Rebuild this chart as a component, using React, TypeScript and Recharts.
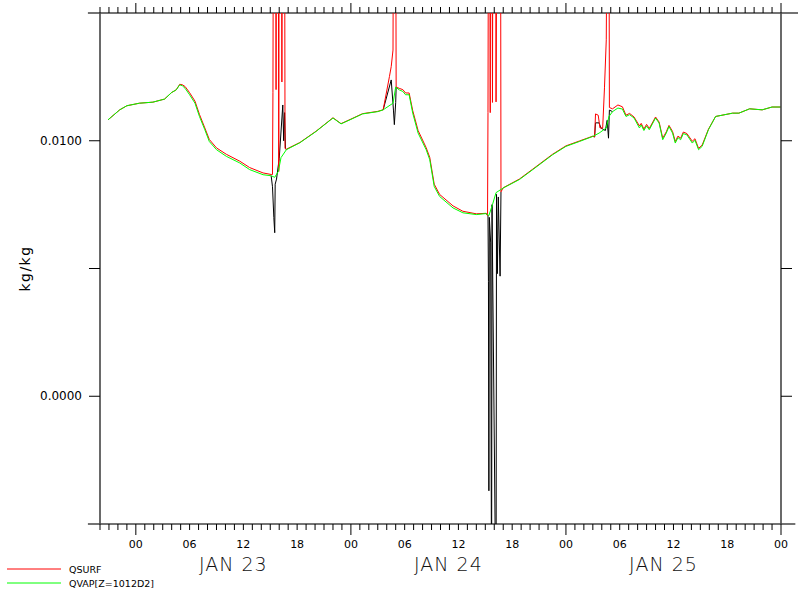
import { LineChart, Line, XAxis, YAxis, ReferenceLine, Legend } from "recharts";

// hours since JAN 23 00:00
const qvapHours = [
  -3.1, -1.8, -1.0, 0.4, 1.9, 3.2, 4.0, 4.5, 4.9, 5.2, 5.5, 6.0, 6.6, 7.1, 7.7, 8.2, 9.0, 10.1,
  11.6, 12.7, 14.2, 15.1, 15.5, 15.9, 16.2, 16.8, 18.3, 20.1, 22.0, 22.9, 23.9, 25.3, 27.0, 27.6,
  28.7, 29.0, 29.4, 29.8, 30.1, 30.5, 30.9, 31.5, 32.4, 32.8, 33.3, 33.9, 35.4, 36.5, 38.0, 39.1,
  39.4, 39.8, 40.2, 41.0, 42.8, 44.3, 46.5, 48.0, 49.5, 51.0, 51.7, 52.5, 52.8, 53.2, 53.8, 54.3,
  54.7, 55.1, 55.6, 56.2, 56.4, 56.7, 57.0, 57.3, 58.0, 58.4, 58.8, 59.2, 59.5, 59.9, 60.2, 60.5,
  60.8, 61.1, 61.5, 62.1, 62.4, 62.8, 63.2, 63.9, 64.7, 66.6, 67.3, 68.5, 69.9, 71.0, 72.0,
];
const qvapValues = [
  0.01082, 0.01121, 0.01137, 0.01147, 0.01151, 0.01163, 0.01189, 0.01199, 0.01219, 0.01215, 0.01205,
  0.0118, 0.01147, 0.01095, 0.01043, 0.00997, 0.00965, 0.00939, 0.00913, 0.00887, 0.00867, 0.00863,
  0.00857, 0.0088, 0.00934, 0.00965, 0.00992, 0.01036, 0.01089, 0.01066, 0.01082, 0.01105, 0.01114,
  0.01121, 0.01147, 0.0121, 0.01199, 0.01193, 0.0118, 0.0118, 0.01108, 0.0103, 0.00965, 0.00926,
  0.00821, 0.00782, 0.00737, 0.00718, 0.00711, 0.00715, 0.00707, 0.0075, 0.00797, 0.00815, 0.00848,
  0.00887, 0.00945, 0.00978, 0.00997, 0.01017, 0.0103, 0.0105, 0.01095, 0.01114, 0.01128, 0.01124,
  0.01095, 0.01102, 0.01089, 0.0105, 0.01062, 0.0104, 0.01058, 0.01043, 0.01089, 0.01069, 0.01004,
  0.0103, 0.01056, 0.0103, 0.00991, 0.01012, 0.01004, 0.01028, 0.01023, 0.00991, 0.01002, 0.00965,
  0.00978, 0.01043, 0.01095, 0.01108, 0.01108, 0.01125, 0.01121, 0.01132, 0.01132,
];

const qsurfHours = [
  -3.1, -1.8, -1.0, 0.4, 1.9, 3.2, 4.0, 4.5, 4.9, 5.2, 5.5, 6.0, 6.6, 7.1, 7.7, 8.2, 9.0, 10.1,
  11.6, 12.7, 14.2, 15.1, 15.25, 15.3, 15.35, 15.6, 15.65, 15.7, 15.9, 15.95, 16.0, 16.25, 16.3,
  16.35, 16.6, 16.65, 16.8, 18.3, 20.1, 22.0, 22.9, 23.9, 25.3, 27.0, 27.6, 28.3, 28.5, 28.7,
  28.75, 29.0, 29.05, 29.4, 29.8, 30.1, 30.5, 30.9, 31.5, 32.4, 32.8, 33.3, 33.9, 35.4, 36.5, 38.0,
  39.1, 39.25, 39.3, 39.35, 39.5, 39.55, 39.6, 39.75, 39.8, 39.85, 40.15, 40.2, 40.3, 40.7, 40.75,
  41.0, 42.8, 44.3, 46.5, 48.0, 49.5, 51.0, 51.2, 51.3, 51.6, 51.8, 52.1, 52.3, 52.5, 52.6, 52.8,
  52.85, 53.2, 53.8, 54.3, 54.7, 55.1, 55.6, 56.2, 56.4, 56.7, 57.0, 57.3, 58.0, 58.4, 58.8, 59.2,
  59.5, 59.9, 60.2, 60.5, 60.8, 61.1, 61.5, 62.1, 62.4, 62.8, 63.2, 63.9, 64.7, 66.6, 67.3, 68.5,
  69.9, 71.0, 72.0,
];
const qsurfValues = [
  0.01082, 0.01121, 0.01137, 0.01147, 0.01151, 0.01163, 0.01189, 0.01199, 0.01221, 0.01219, 0.01212,
  0.01188, 0.01155, 0.01103, 0.0105, 0.01005, 0.00972, 0.00947, 0.0092, 0.00895, 0.00874, 0.00868,
  0.00868, 0.0119, 0.02, 0.02, 0.012, 0.02, 0.02, 0.0088, 0.02, 0.02, 0.0123, 0.02, 0.02, 0.0097,
  0.00967, 0.00993, 0.01037, 0.0109, 0.01067, 0.01083, 0.01106, 0.01115, 0.01121, 0.01251, 0.0129,
  0.01355, 0.02, 0.02, 0.0121, 0.01205, 0.012, 0.01187, 0.01187, 0.01118, 0.0104, 0.00973, 0.00935,
  0.0083, 0.0079, 0.00745, 0.00724, 0.00714, 0.00716, 0.00707, 0.0111, 0.02, 0.02, 0.0111, 0.02,
  0.02, 0.0115, 0.02, 0.02, 0.01152, 0.02, 0.02, 0.008, 0.00816, 0.0085, 0.00889, 0.00947, 0.0098,
  0.00999, 0.01018, 0.01015, 0.01105, 0.011, 0.0105, 0.0105, 0.01207, 0.01395, 0.02, 0.02, 0.0113,
  0.01125, 0.0114, 0.01133, 0.011, 0.01107, 0.01093, 0.01058, 0.01068, 0.01046, 0.01064, 0.01048,
  0.01093, 0.01073, 0.0101, 0.01035, 0.0106, 0.01036, 0.00997, 0.01018, 0.0101, 0.01034, 0.01028,
  0.00998, 0.01008, 0.0097, 0.00983, 0.01045, 0.01095, 0.01108, 0.01108, 0.01125, 0.01121, 0.01132,
  0.01132,
];

// third (black) series, only where it leaves the other two
const blackHours = [
  15.1, 15.25, 15.4, 15.5, 15.55, 15.7, 16.0, 16.4, 16.5, 16.6, 16.7, 16.8, 17.0,
  27.6, 28.5, 28.75, 28.85, 29.0, 29.05, 29.2,
  39.1, 39.3, 39.35, 39.4, 39.45, 39.6, 39.7, 39.75, 40.2, 40.25, 40.35, 40.45, 40.65, 40.75, 41.0,
  51.0, 51.2, 51.3, 51.7, 51.9, 52.4, 52.6, 52.75, 52.85, 53.2,
];
const blackValues = [
  0.00863, 0.0082, 0.007, 0.0064, 0.0083, 0.0085, 0.0093, 0.0114, 0.01, 0.0111, 0.0097, 0.00965, null,
  0.01121, 0.01238, 0.0112, 0.01063, 0.0115, 0.0121, null,
  0.00715, 0.00707, 0.0045, -0.0037, 0.007, 0.006, -0.009, 0.0075, -0.009, 0.0079, 0.0048, 0.0078,
  0.0047, 0.008, null,
  0.01017, 0.01015, 0.0107, 0.0107, 0.0105, 0.0104, 0.0108, 0.0101, 0.0112, 0.01114,
];

const hourTicks = Array.from({ length: 77 }, (_, i) => i - 4);
const valueTicks = [0, 0.005, 0.01];
const labeledValues = [0, 0.01];
const dateLabels = ["JAN 23", "JAN 24", "JAN 25"];

const toRows = (hours: number[], values: (number | null)[]) =>
  hours.map((t, i) => ({ t, v: values[i] }));

const qvapData = toRows(qvapHours, qvapValues);
const qsurfData = toRows(qsurfHours, qsurfValues);
const blackData = toRows(blackHours, blackValues);

const FONT = "'DejaVu Sans', sans-serif";
const AXIS = "#444";

const BottomTick = (props: any) => {
  const { x, y, payload } = props;
  const h: number = payload.value;
  const hh = ((h % 24) + 24) % 24;
  return (
    <g>
      <line x1={x} x2={x} y1={y} y2={y + (hh === 0 ? 11 : 6)} stroke="#000" />
      {h >= 0 && hh % 6 === 0 && (
        <text x={x} y={y + 24} textAnchor="middle" fontSize={11} fontFamily={FONT} fill="#000">
          {String(hh).padStart(2, "0")}
        </text>
      )}
      {hh === 12 && (
        <text x={x - 10} y={y + 47} textAnchor="middle" fontSize={19} fontWeight={200}
          fontFamily={FONT} fill="#111" letterSpacing={1}>
          {dateLabels[Math.floor(h / 24)]}
        </text>
      )}
    </g>
  );
};

const TopTick = (props: any) => {
  const { x, y, payload } = props;
  const hh = ((payload.value % 24) + 24) % 24;
  return <line x1={x} x2={x} y1={y} y2={y - (hh === 0 ? 10 : 6)} stroke="#000" />;
};

const LeftTick = (props: any) => {
  const { x, y, payload } = props;
  const v: number = payload.value;
  return (
    <g>
      <line x1={x - 11} x2={x} y1={y} y2={y} stroke="#000" />
      {labeledValues.includes(v) && (
        <text x={x - 18} y={y} dy={4} textAnchor="end" fontSize={12} fontFamily={FONT} fill="#000">
          {v.toFixed(4)}
        </text>
      )}
    </g>
  );
};

const RightTick = (props: any) => {
  const { x, y } = props;
  return <line x1={x} x2={x + 11} y1={y} y2={y} stroke="#000" />;
};

const UnitLabel = (props: any) => {
  const vb = props.viewBox || { x: 0, y: 13, width: 100, height: 511 };
  const cx = vb.x + 25;
  const cy = vb.y + vb.height / 2;
  return (
    <text x={cx} y={cy} transform={`rotate(-90, ${cx}, ${cy})`} textAnchor="middle" dy={5}
      fontSize={14} letterSpacing={1.5} fontFamily={FONT} fill="#000">
      kg/kg
    </text>
  );
};

const LegendBox = (props: any) => {
  const items = (props.payload || []).filter((p: any) => p.type !== "none");
  return (
    <svg width={200} height={32}>
      {items.map((p: any, i: number) => (
        <g key={p.value}>
          <line x1={7} x2={61} y1={9 + 14 * i} y2={9 + 14 * i} stroke={p.color} />
          <text x={69} y={13 + 14 * i} fontSize={9.5} fontFamily={FONT} fill="#000">
            {p.value}
          </text>
        </g>
      ))}
    </svg>
  );
};

export default function App() {
  return (
    <div style={{ position: "absolute", left: 0, top: 0, background: "#fff" }}>
      <LineChart width={798} height={592} margin={{ top: 0, right: 0, bottom: 0, left: 0 }}>
        <XAxis
          dataKey="t"
          type="number"
          domain={[-4, 72]}
          allowDataOverflow
          ticks={hourTicks}
          interval={0}
          height={68}
          axisLine={false}
          tickLine={false}
          tickSize={0}
          tickMargin={0}
          tick={<BottomTick />}
        />
        <XAxis
          xAxisId="top"
          orientation="top"
          dataKey="t"
          type="number"
          domain={[-4, 72]}
          allowDataOverflow
          ticks={hourTicks}
          interval={0}
          height={13}
          axisLine={false}
          tickLine={false}
          tickSize={0}
          tickMargin={0}
          tick={<TopTick />}
        />
        <YAxis
          type="number"
          domain={[-0.005, 0.015]}
          allowDataOverflow
          ticks={valueTicks}
          interval={0}
          width={100}
          axisLine={{ stroke: AXIS, strokeWidth: 1.6 }}
          tickLine={false}
          tickSize={0}
          tickMargin={0}
          tick={<LeftTick />}
          label={<UnitLabel />}
        />
        <YAxis
          yAxisId="right"
          orientation="right"
          type="number"
          domain={[-0.005, 0.015]}
          allowDataOverflow
          ticks={valueTicks}
          interval={0}
          width={17}
          axisLine={{ stroke: AXIS, strokeWidth: 1.6 }}
          tickLine={false}
          tickSize={0}
          tickMargin={0}
          tick={<RightTick />}
        />
        <ReferenceLine
          segment={[{ x: -5.35, y: 0.015 }, { x: 74, y: 0.015 }]}
          ifOverflow="visible"
          stroke={AXIS}
          strokeWidth={1.6}
        />
        <ReferenceLine
          segment={[{ x: -5.35, y: -0.005 }, { x: 73.6, y: -0.005 }]}
          ifOverflow="visible"
          stroke={AXIS}
          strokeWidth={1.6}
        />
        <Line data={blackData} dataKey="v" name="third" stroke="#000000" strokeWidth={1} dot={false}
          legendType="none" isAnimationActive={false} type="linear" />
        <Line data={qsurfData} dataKey="v" name="QSURF" stroke="#ff0000" strokeWidth={1} dot={false}
          isAnimationActive={false} type="linear" />
        <Line data={qvapData} dataKey="v" name="QVAP[Z=1012D2]" stroke="#00ff00" strokeWidth={1} dot={false}
          isAnimationActive={false} type="linear" />
        <Legend
          layout="horizontal"
          verticalAlign="middle"
          align="center"
          wrapperStyle={{ left: 0, top: 560, width: 200, height: 32 }}
          content={<LegendBox />}
        />
      </LineChart>
    </div>
  );
}
